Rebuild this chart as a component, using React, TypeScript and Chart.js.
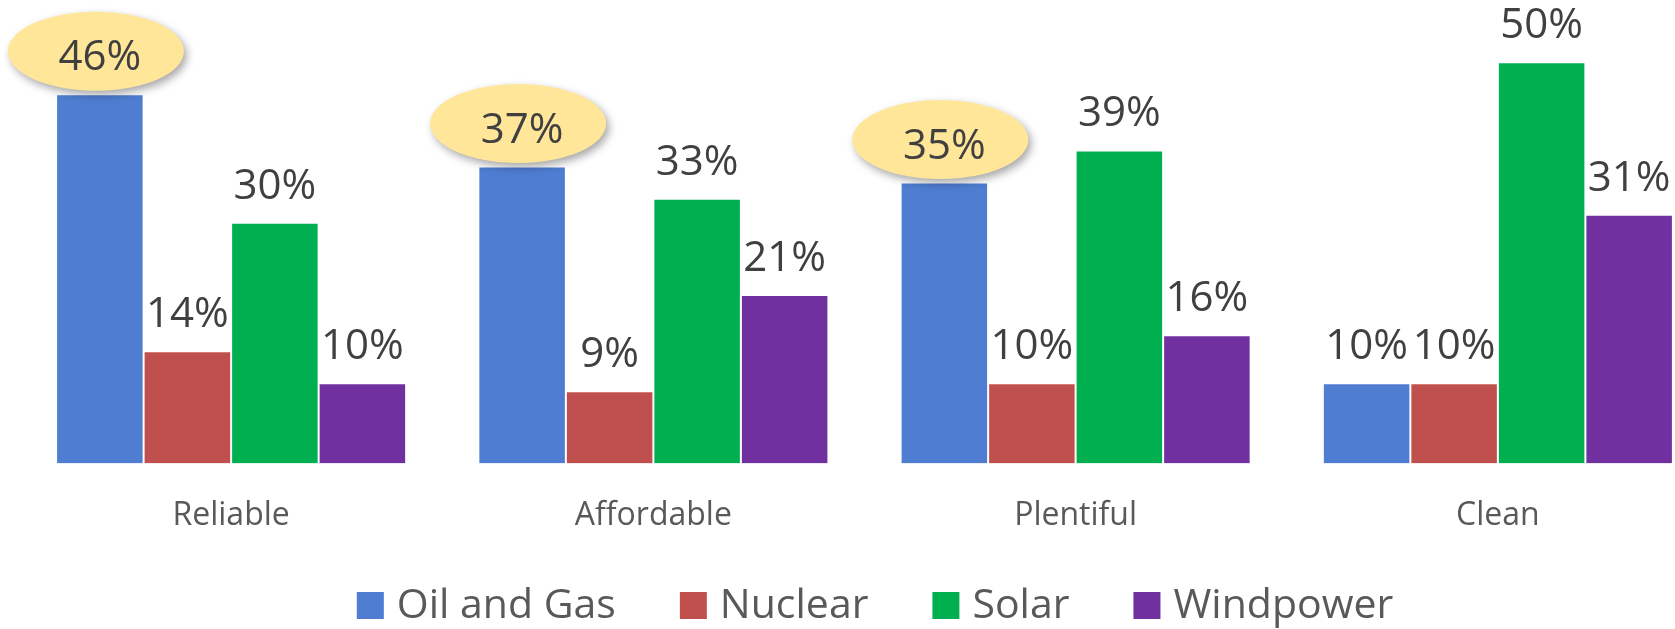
import React, { useEffect, useRef } from "react";
import { Chart, registerables } from "chart.js";

Chart.register(...registerables);

const categories = ["Reliable", "Affordable", "Plentiful", "Clean"];
const seriesNames = ["Oil and Gas", "Nuclear", "Solar", "Windpower"];
const oilAndGas = [46, 37, 35, 10];
const nuclear = [14, 9, 10, 10];
const solar = [30, 33, 39, 50];
const windpower = [10, 21, 16, 31];
const highlightedOilAndGas = [true, true, true, false];

const colors = ["#4E7DD1", "#C0504D", "#00B050", "#7030A0"];
const FONT = "'Open Sans', 'DejaVu Sans', sans-serif";

const labelPlugin = {
  id: "valueLabels",
  afterDatasetsDraw(chart: any) {
    const ctx = chart.ctx;
    chart.data.datasets.forEach((ds: any, di: number) => {
      const meta = chart.getDatasetMeta(di);
      meta.data.forEach((bar: any, i: number) => {
        const v = ds.data[i];
        if (di === 0 && highlightedOilAndGas[i]) {
          ctx.save();
          ctx.shadowColor = "rgba(0,0,0,0.35)";
          ctx.shadowBlur = 8;
          ctx.shadowOffsetX = 3;
          ctx.shadowOffsetY = 4;
          ctx.fillStyle = "#FFE699";
          ctx.beginPath();
          ctx.ellipse(bar.x - 4, bar.y - 43, 88, 39.5, 0, 0, Math.PI * 2);
          ctx.fill();
          ctx.restore();
        }
        ctx.save();
        ctx.fillStyle = "#404040";
        ctx.font = `42px ${FONT}`;
        ctx.textAlign = "center";
        ctx.textBaseline = "alphabetic";
        ctx.fillText(`${v}%`, bar.x, bar.y - 24);
        ctx.restore();
      });
    });
  },
};

const legendPlugin = {
  id: "customLegend",
  afterDraw(chart: any) {
    const ctx = chart.ctx;
    const box = 27;
    const textGap = 13;
    const itemGap = 64;
    const centerX = 875;
    const centerY = 605.5;
    ctx.save();
    ctx.font = `41px ${FONT}`;
    const items = chart.data.datasets.map((ds: any) => ({
      label: ds.label,
      color: ds.backgroundColor,
      w: ctx.measureText(ds.label).width,
    }));
    const total =
      items.reduce((s: number, it: any) => s + box + textGap + it.w, 0) +
      itemGap * (items.length - 1);
    let x = centerX - total / 2;
    ctx.textAlign = "left";
    ctx.textBaseline = "middle";
    items.forEach((it: any) => {
      ctx.fillStyle = it.color;
      ctx.fillRect(x, centerY - box / 2, box, box);
      ctx.fillStyle = "#595959";
      ctx.fillText(it.label, x + box + textGap, centerY + 1);
      x += box + textGap + it.w + itemGap;
    });
    ctx.restore();
  },
};

export default function App() {
  const ref = useRef<HTMLCanvasElement | null>(null);
  useEffect(() => {
    if (!ref.current) return;
    const seriesData = [oilAndGas, nuclear, solar, windpower];
    const chart = new Chart(ref.current, {
      type: "bar",
      data: {
        labels: categories,
        datasets: seriesNames.map((name, k) => ({
          label: name,
          data: seriesData[k],
          backgroundColor: colors[k],
          borderColor: "rgba(255,255,255,0.25)",
          borderWidth: 1,
          categoryPercentage: 0.829,
          barPercentage: 1.0,
        })),
      },
      options: {
        responsive: true,
        maintainAspectRatio: false,
        animation: false,
        layout: { padding: { left: 20, right: 37, top: 22, bottom: 61 } },
        plugins: {
          tooltip: { enabled: false },
          legend: { display: false },
        },
        scales: {
          x: {
            grid: { display: false, drawTicks: false },
            border: { display: false },
            ticks: {
              color: "#595959",
              font: { family: FONT, size: 32 },
              padding: 33,
            },
          },
          y: {
            display: false,
            min: 0,
            max: 55,
          },
        },
      },
      plugins: [labelPlugin, legendPlugin],
    });
    return () => chart.destroy();
  }, []);
  return (
    <div
      style={{
        position: "fixed",
        left: 0,
        top: 0,
        width: 1675,
        height: 629,
        overflow: "hidden",
        background: "#fff",
      }}
    >
      <div style={{ position: "relative", width: 1746, height: 629 }}>
        <canvas ref={ref} />
      </div>
    </div>
  );
}
